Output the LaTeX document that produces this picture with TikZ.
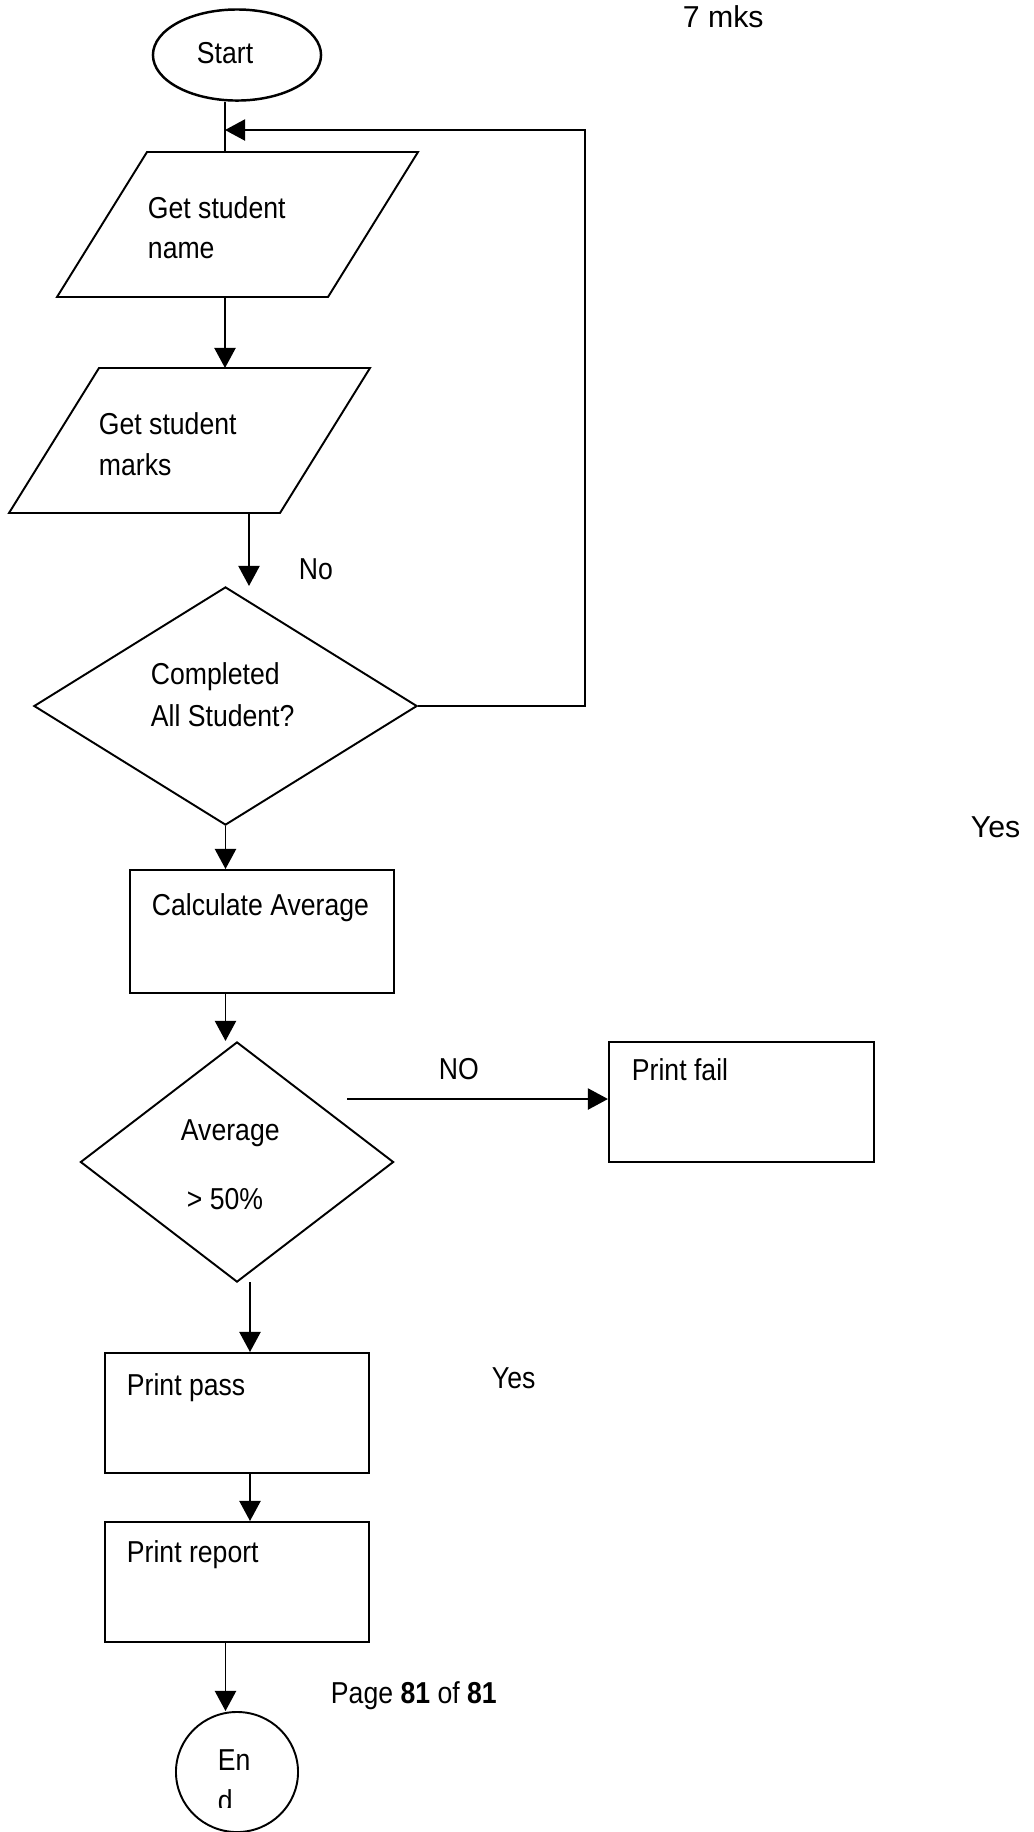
\documentclass[tikz,border=0pt]{standalone}
\usepackage{fontspec}
\setmainfont{Liberation Sans}[FakeStretch=0.88]
\newfontfamily\widefont{Liberation Sans}
\usetikzlibrary{arrows.meta,shapes.geometric}
\tikzset{>={Triangle[length=5.7pt,width=6pt]}}

\begin{document}
\begin{tikzpicture}[x=0.01cm,y=-0.01cm,line width=0.55pt,
  txt/.style={inner sep=0pt,anchor=base west,font=\fontsize{8.6}{10}\selectfont},
  box/.style={draw,rectangle,inner sep=0pt,minimum width=2.64cm,minimum height=1.2cm},
  decision/.style={draw,diamond,inner sep=0pt},
  terminal/.style={draw,ellipse,inner sep=0pt}]
\useasboundingbox (0,0) rectangle (1034,1832);
\node[txt] (mks) at (682,27) {\widefont 7 mks};
\node[terminal,line width=0.7pt,minimum width=1.68cm,minimum height=0.91cm] (start) at (237,55) {};
\node[txt] at (196,63) {Start};
\coordinate (loop) at (225,130);
\coordinate (back) at (585,130);
\coordinate (gn) at (147,152);
\coordinate (gnb) at (57,297);
\coordinate (gm) at (99,368);
\coordinate (gmbot) at (249,513);
\draw (gn) -- ++(271,0) -- ++(-90,145) -- ++(-271,0) -- cycle;
\node[txt] at (147,218) {Get student};
\node[txt] at (147,258) {name};
\draw (gm) -- ++(271,0) -- ++(-90,145) -- ++(-271,0) -- cycle;
\node[txt] at (98,434) {Get student};
\node[txt] at (98,475) {marks};
\node[decision,minimum width=3.83cm,minimum height=2.38cm] (dec1) at (225.5,706) {};
\node[txt] at (150,684) {Completed};
\node[txt] at (150,726) {All Student?};
\node[txt] at (298,579) {No};
\node[txt] at (970,837) {\widefont Yes};
\node[box,minimum height=1.23cm] (calc) at (262,931.5) {};
\node[txt] at (151,915) {Calculate Average};
\node[decision,minimum width=3.13cm,minimum height=2.4cm] (dec2) at (237,1162) {};
\node[txt] at (180,1140) {Average};
\node[txt] at (186,1209) {> 50\%};
\coordinate (nostart) at (347,1099);
\coordinate (yes) at (250,1282);
\node[box,minimum width=2.65cm] (fail) at (741.5,1102) {};
\node[txt] at (631,1080) {Print fail};
\node[txt] at (438,1079) {NO};
\node[box] (pass) at (237,1413) {};
\node[txt] at (126,1395) {Print pass};
\node[txt] at (491,1388) {Yes};
\node[box] (report) at (237,1582) {};
\node[txt] at (126,1562) {Print report};
\node[txt] at (330,1703) {Page \textbf{81} of \textbf{81}};
\node[terminal,minimum width=1.22cm,minimum height=1.2cm] (stop) at (237,1772) {};
\node[txt] at (217,1770) {En};
\begin{scope}
\clip (150,1700) rectangle (330,1807);
\node[txt] at (217,1811) {d};
\end{scope}
% connectors
\draw (start.south -| loop) -- (loop |- gn);
\draw[->] (dec1.east) -| (back) -- (loop);
\draw[->] (loop |- gnb) -- (loop |- gm);
\draw[->] (gmbot) -- (gmbot |- dec1.north);
\draw[->] (dec1.south) -- (dec1.south |- calc.north);
\draw[->] (dec1.south |- calc.south) -- (dec1.south |- dec2.north);
\draw[->] (nostart) -- (nostart -| fail.west);
\draw[->] (yes) -- (yes |- pass.north);
\draw[->] (yes |- pass.south) -- (yes |- report.north);
\draw[->] (dec1.south |- report.south) -- (dec1.south |- stop.north);
\end{tikzpicture}
\end{document}
